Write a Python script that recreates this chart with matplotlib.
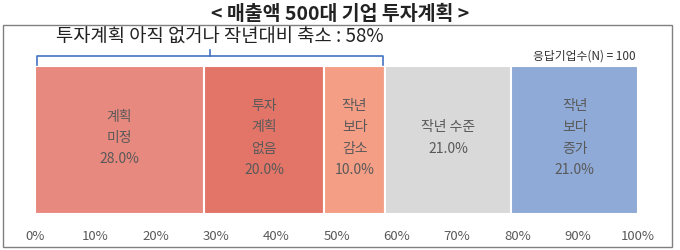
import matplotlib
matplotlib.use('Agg')
from matplotlib import pyplot as plt
from matplotlib import patches
from matplotlib.transforms import blended_transform_factory

plt.rcParams['font.family'] = ['Noto Sans CJK KR', 'DejaVu Sans']

labels = ['계획\n미정', '투자\n계획\n없음', '작년\n보다\n감소', '작년 수준', '작년\n보다\n증가']
shares = [28.0, 20.0, 10.0, 21.0, 21.0]
colors = ['#E8897F', '#E27568', '#F59E86', '#D9D9D9', '#8FAAD6']
ticks = [0, 10, 20, 30, 40, 50, 60, 70, 80, 90, 100]
bracket_total = 58

W, H = 680, 251
fig = plt.figure(figsize=(W / 100, H / 100), dpi=100)

# outer frame
fig.add_artist(patches.Rectangle((3 / W, 1 - 248 / H), 669 / W, 222 / H,
                                 transform=fig.transFigure, fill=False,
                                 edgecolor='#808080', linewidth=1))

fig.text(0.5, 1 - 14 / H, '< 매출액 500대 기업 투자계획 >', ha='center', va='center',
         fontsize=14, fontweight='bold', color='#222222')

ax = fig.add_axes([35 / W, 1 - 215 / H, 603 / W, 148 / H])
left = 0
for lab, v, c in zip(labels, shares, colors):
    ax.barh(0, v, left=left, height=1, color=c, edgecolor='white', linewidth=1.5)
    ax.text(left + v / 2, 0.02, lab + '\n' + f'{v:.1f}%', ha='center', va='center',
            fontsize=10, color='#595959', linespacing=1.65)
    left += v

ax.set_xlim(0, 100)
ax.set_ylim(-0.5, 0.5)
ax.set_yticks([])
ax.set_xticks(ticks)
ax.set_xticklabels([f'{t}%' for t in ticks], fontsize=9.5, color='#595959')
ax.tick_params(axis='x', length=0, pad=11)
for s in ax.spines.values():
    s.set_visible(False)

# bracket over the first three bars
tr = blended_transform_factory(ax.transData, fig.transFigure)
y_top = 1 - 57 / H
y_end = 1 - 66 / H
y_mid = 1 - 51 / H
bc = '#4472C4'
ax.plot([0.3, 0.3, bracket_total - 0.3, bracket_total - 0.3], [y_end, y_top, y_top, y_end],
        color=bc, lw=1.2, transform=tr, clip_on=False)
ax.plot([bracket_total / 2, bracket_total / 2], [y_top, y_mid], color=bc, lw=1.2,
        transform=tr, clip_on=False)
ax.text(30.7, 1 - 37 / H, f'투자계획 아직 없거나 작년대비 축소 : {bracket_total}%',
        ha='center', va='center', fontsize=13.5, color='#222222', transform=tr)

fig.text(636 / W, 1 - 56 / H, '응답기업수(N) = 100', ha='right', va='center',
         fontsize=8.5, color='#333333')

fig.savefig('out.png', dpi=100)
